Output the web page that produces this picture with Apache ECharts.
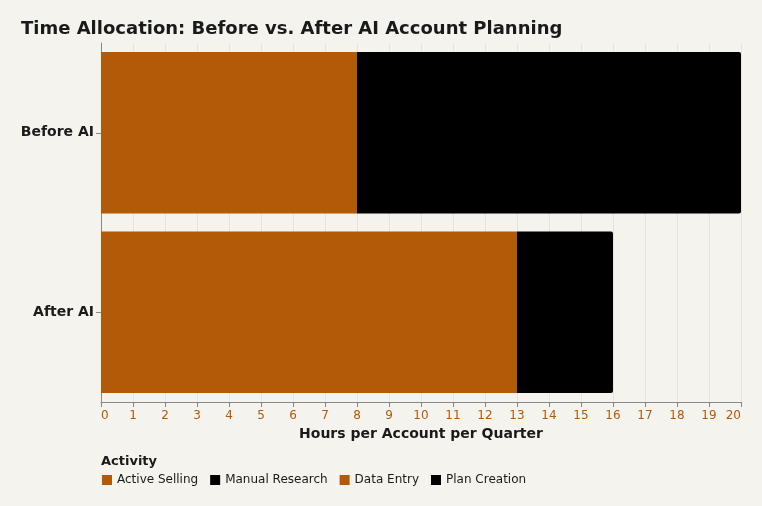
<!DOCTYPE html>
<html>
<head>
<meta charset="utf-8">
<script src="https://cdn.jsdelivr.net/npm/echarts@6/dist/echarts.min.js"></script>
<style>
  html, body { margin: 0; padding: 0; background: #f4f3ed; }
  #chart { width: 762px; height: 506px; }
</style>
</head>
<body>
<div id="chart"></div>
<script>
// data
var categories = ['Before AI', 'After AI'];
var activeSelling = [6, 12];
var dataEntry = [2, 1];
var manualResearch = [8, 2];
var planCreation = [4, 1];
var xTicks = [0, 20, 1];

var orange = '#b25a07';
var black = '#000000';

var chart = echarts.init(document.getElementById('chart'));

function seg(name, values, color, last) {
    return {
        name: name,
        type: 'bar',
        stack: 'total',
        data: values,
        barCategoryGap: '10%',
        itemStyle: {
            color: color,
            borderRadius: last ? [0, 2, 2, 0] : 0
        },
        emphasis: { disabled: true }
    };
}

var option = {
    backgroundColor: '#f4f3ed',
    textStyle: { fontFamily: 'DejaVu Sans' },
    title: {
        text: 'Time Allocation: Before vs. After AI Account Planning',
        left: 21,
        top: 20,
        padding: 0,
        textStyle: { fontSize: 18, fontWeight: 'bold', color: '#1a1a1a', fontFamily: 'DejaVu Sans' }
    },
    legend: {
        left: 102,
        top: 474,
        padding: 0,
        icon: 'rect',
        itemWidth: 10,
        itemHeight: 10,
        itemGap: 12,
        textStyle: { fontSize: 12, color: '#1a1a1a', fontFamily: 'DejaVu Sans' },
        // legend order differs from stack order
        data: ['Active Selling', 'Manual Research', 'Data Entry', 'Plan Creation']
    },
    graphic: [{
        type: 'text',
        left: 101,
        top: 455,
        style: { text: 'Activity', font: 'bold 13px "DejaVu Sans"', fill: '#1a1a1a' }
    }],
    grid: {
        left: 101,
        right: 21,
        top: 43,
        bottom: 104,
        containLabel: false
    },
    xAxis: {
        type: 'value',
        min: xTicks[0],
        max: xTicks[1],
        interval: xTicks[2],
        name: 'Hours per Account per Quarter',
        nameLocation: 'middle',
        nameGap: 19,
        nameTextStyle: { fontSize: 14, fontWeight: 'bold', color: '#1a1a1a' },
        axisLine: { show: true, lineStyle: { color: '#888888' } },
        axisTick: { show: true, length: 5, lineStyle: { color: '#888888' } },
        axisLabel: { color: '#b25a07', fontSize: 12, margin: 8, alignMinLabel: 'left', alignMaxLabel: 'right' },
        splitLine: { show: true, lineStyle: { color: '#e4e3dd' } }
    },
    yAxis: {
        type: 'category',
        data: categories,
        inverse: true,
        axisLine: { show: true, lineStyle: { color: '#888888' } },
        axisTick: { show: true, alignWithLabel: true, length: 5, lineStyle: { color: '#888888' } },
        axisLabel: { color: '#1a1a1a', fontSize: 14, fontWeight: 'bold', margin: 7 },
        splitLine: { show: false }
    },
    series: [
        seg('Active Selling', activeSelling, orange, false),
        seg('Data Entry', dataEntry, orange, false),
        seg('Manual Research', manualResearch, black, false),
        seg('Plan Creation', planCreation, black, true)
    ]
};
chart.setOption(option);
</script>
</body>
</html>
